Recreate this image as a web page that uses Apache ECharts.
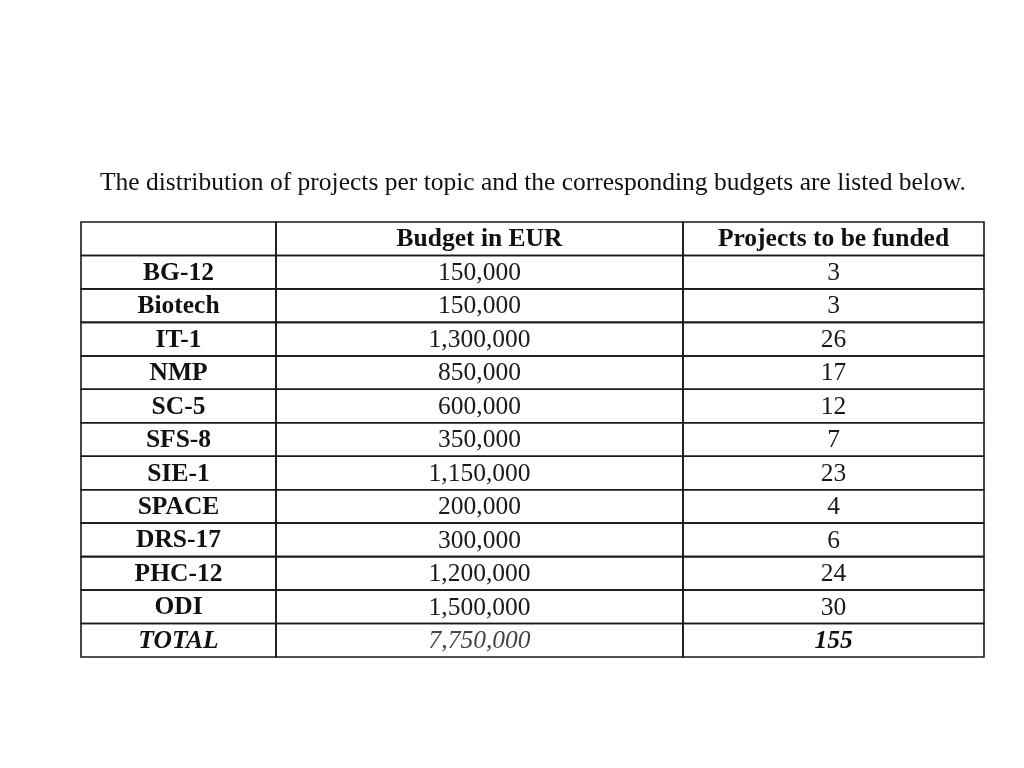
<!DOCTYPE html>
<html>
<head>
<meta charset="utf-8">
<script src="https://cdn.jsdelivr.net/npm/echarts@6/dist/echarts.min.js"></script>
<style>html,body{margin:0;padding:0;background:#fff}#chart{width:1024px;height:768px}</style>
</head>
<body>
<div id="chart"></div>
<script>
const titleText = 'The distribution of projects per topic and the corresponding budgets are listed below.';
const headers = ['', 'Budget in EUR', 'Projects to be funded'];
const topics = ['BG-12', 'Biotech', 'IT-1', 'NMP', 'SC-5', 'SFS-8', 'SIE-1', 'SPACE', 'DRS-17', 'PHC-12', 'ODI'];
const budgets = [150000, 150000, 1300000, 850000, 600000, 350000, 1150000, 200000, 300000, 1200000, 1500000];
const projects = [3, 3, 26, 17, 12, 7, 23, 4, 6, 24, 30];
const totalLabel = 'TOTAL';
const totalBudget = 7750000;
const totalProjects = 155;

function fmt(n) { return String(n).replace(/\B(?=(\d{3})+(?!\d))/g, ','); }

const rows = ['header'].concat(topics, ['total']);
const cells = [];
headers.forEach((h, c) => cells.push({ c: c, r: 0, text: h, kind: 'head' }));
topics.forEach((t, i) => {
  cells.push({ c: 0, r: i + 1, text: t, kind: 'label' });
  cells.push({ c: 1, r: i + 1, text: fmt(budgets[i]), kind: 'num' });
  cells.push({ c: 2, r: i + 1, text: String(projects[i]), kind: 'num' });
});
const tr = topics.length + 1;
cells.push({ c: 0, r: tr, text: totalLabel, kind: 'totLabel' });
cells.push({ c: 1, r: tr, text: fmt(totalBudget), kind: 'totNum' });
cells.push({ c: 2, r: tr, text: String(totalProjects), kind: 'totBold' });

const colEdges = [0, 195, 602, 903];
const FF = '"Liberation Serif", "Times New Roman", serif';
const fonts = {
  head: { fontWeight: 'bold', fontStyle: 'normal', fill: '#111' },
  label: { fontWeight: 'bold', fontStyle: 'normal', fill: '#111' },
  num: { fontWeight: 'normal', fontStyle: 'normal', fill: '#1a1a1a' },
  totLabel: { fontWeight: 'bold', fontStyle: 'italic', fill: '#111' },
  totNum: { fontWeight: 'normal', fontStyle: 'italic', fill: '#444' },
  totBold: { fontWeight: 'bold', fontStyle: 'italic', fill: '#111' }
};

const chart = echarts.init(document.getElementById('chart'));
chart.setOption({
  backgroundColor: '#fff',
  animation: false,
  title: {
    text: titleText,
    left: 95, top: 165,
    textStyle: { fontFamily: FF, fontSize: 25.5, fontWeight: 'normal', color: '#111' }
  },
  grid: { left: 81, right: 40, top: 222, bottom: 111 },
  xAxis: { type: 'value', min: 0, max: 903, show: false },
  yAxis: { type: 'category', data: rows, inverse: true, show: false },
  series: [{
    type: 'custom',
    data: cells.map(d => [d.c, d.r]),
    renderItem: function (params, api) {
      const cell = cells[params.dataIndex];
      const r = api.value(1);
      const x0 = api.coord([colEdges[cell.c], r])[0];
      const x1 = api.coord([colEdges[cell.c + 1], r])[0];
      const yc = api.coord([0, r])[1];
      const h = api.size([0, 1])[1];
      const f = fonts[cell.kind];
      return {
        type: 'group',
        children: [
          { type: 'rect', shape: { x: x0, y: yc - h / 2, width: x1 - x0, height: h },
            style: { fill: 'none', stroke: '#1a1a1a', lineWidth: 1.6 } },
          { type: 'text', style: { x: (x0 + x1) / 2, y: yc + 1, text: cell.text, align: 'center', verticalAlign: 'middle',
            fontFamily: FF, fontSize: 25.5, fontWeight: f.fontWeight, fontStyle: f.fontStyle, fill: f.fill } }
        ]
      };
    }
  }]
});
</script>
</body>
</html>
